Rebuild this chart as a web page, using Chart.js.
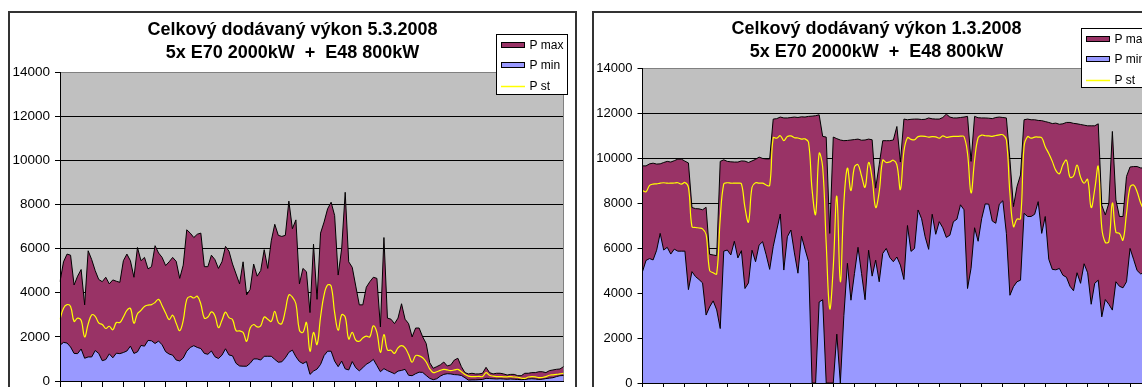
<!DOCTYPE html>
<html>
<head>
<meta charset="utf-8">
<title>Celkový dodávaný výkon</title>
<script src="https://cdn.jsdelivr.net/npm/chart.js"></script>
<style>
  html, body { margin: 0; padding: 0; background: #fff; width: 1142px; height: 387px; overflow: hidden; }
  .frame { position: absolute; top: 11px; width: 569px; height: 420px; box-sizing: border-box;
           border: 2px solid #333; background: #fff; }
  .frame canvas { position: absolute; left: 0; top: 0; }
</style>
</head>
<body>
<div class="frame" style="left:8px"><canvas id="day5" width="565" height="405"></canvas></div>
<div class="frame" style="left:592px"><canvas id="day1" width="565" height="405"></canvas></div>
<script>
// 10-minute samples over one day
const times = [];
for (let m = 0; m < 1440; m += 10) times.push(Math.floor(m / 60) + ':' + String(m % 60).padStart(2, '0'));

const seriesNames = ['P max', 'P min', 'P st'];
const seriesColors = ['#993366', '#9999ff', '#ffff00'];
const yTickValues = [0, 2000, 4000, 6000, 8000, 10000, 12000, 14000];

const title5 = ['Celkový dodávaný výkon 5.3.2008', '5x E70 2000kW  +  E48 800kW'];
const title1 = ['Celkový dodávaný výkon 1.3.2008', '5x E70 2000kW  +  E48 800kW'];

// 5.3.2008 [kW]
const max5 = [
  4500,5400,5750,5700,4350,4750,5050,3450,5900,5500,
  5000,4600,4500,4700,4400,4580,4520,4470,5450,5750,
  5450,4700,6050,5450,5600,5080,5180,6130,5800,5600,
  5230,5400,5600,5420,4650,5250,6850,6700,6500,6650,
  6700,5180,5180,5700,5500,5100,5400,6100,5880,5300,
  4850,4400,5400,3900,4150,5300,4750,5000,5950,5100,
  6350,7100,6600,6550,6600,8150,6900,7300,4400,5100,
  4950,3100,6200,3700,6700,7200,7800,8100,7500,4800,
  6000,8550,5400,5150,4300,3450,3450,4250,4500,4700,
  4650,2450,6500,2850,2800,2600,2850,3500,2800,2600,
  2000,2400,2400,2000,1700,830,575,650,730,860,
  680,730,950,1030,650,380,320,350,320,320,
  350,620,380,320,350,350,320,270,300,300,
  240,240,350,350,380,380,420,420,380,470,
  500,530,545,650
];
const min5 = [
  1620,1750,1720,1540,1250,1240,1450,1030,1090,1090,
  1380,1250,920,970,1230,1050,1260,1240,1290,1360,
  1580,1250,1320,1610,1580,1840,1820,1700,1810,1640,
  1330,1220,1170,950,910,1040,1350,1520,1600,1520,
  1470,1250,1210,1360,1100,1020,1170,1460,1180,1140,
  800,680,670,670,800,1000,1000,950,1120,1120,
  1120,980,850,870,1050,1300,1400,1100,880,790,
  880,300,450,540,750,1150,1350,1350,900,650,
  900,550,500,880,600,460,600,760,850,980,
  700,420,560,470,400,330,450,480,530,260,
  240,330,400,390,250,120,60,100,220,300,
  330,320,290,280,250,150,40,50,50,60,
  70,120,110,100,90,100,90,80,90,80,
  70,60,70,90,100,90,70,80,110,130,
  150,200,240,250
];
const avg5 = [
  2790,3300,3460,3380,2700,2850,2750,2000,2580,3000,
  2930,2630,2560,2380,2480,2320,2650,2650,2900,3200,
  3290,2620,3050,3200,3380,3440,3460,3560,3700,3410,
  3080,2780,2980,2620,2280,2750,3700,3830,3760,3840,
  3480,2850,2900,3130,2960,2420,2750,3120,2870,2780,
  2280,2270,2200,1800,2400,2560,2450,2500,2900,2800,
  2700,3150,2650,2600,3200,3900,3800,3500,2300,2200,
  2650,1350,2200,1650,2900,3900,4350,4300,3100,2300,
  3000,2900,1900,2200,1850,1800,1950,2030,2000,2500,
  2200,1300,2100,1400,1390,1250,1500,1600,1500,1200,
  850,1150,1140,1050,860,550,380,420,480,530,
  500,470,500,530,420,300,220,200,200,210,
  200,380,260,220,200,200,190,190,200,180,
  170,130,120,180,200,190,150,160,200,260,
  280,300,320,350
];

// 1.3.2008 [kW]
const max1 = [
  9650,9650,9740,9770,9730,9740,9800,9850,9820,9880,
  9950,9950,9860,9780,7800,7750,7740,7700,7810,5720,
  5690,5660,9850,9920,9850,9830,9820,9820,9870,9860,
  9800,9870,9940,10040,9980,9960,9960,11730,11750,11820,
  11780,11780,11800,11820,11800,11830,11820,11850,11860,11880,
  11920,10960,10930,6650,10930,10860,10800,10770,10780,10800,
  10820,10840,10790,10800,10840,10810,8660,9700,10770,10770,
  10770,10800,11400,9820,11730,11700,11720,11730,11730,11710,
  11720,11780,11740,11730,11730,11800,11950,11820,11780,11780,
  11800,11820,11850,9850,11850,11790,11780,11780,11770,11750,
  11800,11820,11800,11780,9920,7840,8730,9250,11700,11730,
  11700,11700,11670,11660,11620,11580,11530,11550,11500,11520,
  11580,11580,11540,11520,11490,11460,11430,11430,11430,11520,
  7900,7470,7990,11180,8140,7400,7400,9180,9600,9620,
  9620,9560,9550,9550
];
const min1 = [
  4950,5450,5530,5470,5900,6650,5910,6030,5730,5950,
  5860,5860,5860,4150,4950,4730,4600,4450,3020,3380,
  3650,3250,2420,5860,5910,5690,6300,5560,5880,4200,
  4450,5900,5390,6130,6280,5700,5050,6060,6800,7510,
  5020,6500,6800,5780,4880,6530,5950,5400,0,0,
  3600,3700,0,0,0,2170,0,3000,5320,3680,
  4870,6030,4870,3700,5900,4750,5460,4500,5760,5980,
  5580,5390,5600,5240,4600,7000,5850,5980,7690,7300,
  6500,5940,7500,6610,7170,6900,6470,6570,7170,7280,
  7920,7700,4200,5100,6900,6300,7300,7960,7950,7200,
  7100,7950,8100,6650,3900,4280,4500,4570,7540,7400,
  7400,7500,8060,6650,7400,5500,5050,5030,5090,4790,
  4700,4300,4100,4900,4430,5300,4900,3500,4430,4570,
  2940,3710,3500,3240,4500,4300,4230,4500,5980,5500,
  5000,4850,4900,5000
];
const avg1 = [
  8550,8500,8780,8840,8850,8880,8900,8880,8880,8890,
  8900,8840,8910,8700,6950,6910,6890,6850,6600,5000,
  4900,4850,7300,8850,8900,8880,8880,8880,8850,7800,
  7150,8700,8900,8880,8880,8800,8780,10900,10880,10990,
  10770,10960,10980,10900,10890,10840,10850,10700,8600,7500,
  10200,9600,6200,3300,5170,8300,4500,8000,9550,8550,
  9600,9700,9200,8700,9800,9100,7800,8500,9900,9800,
  9830,9900,9700,8600,10300,10900,10830,10810,10950,10970,
  10960,10930,10950,10940,10880,10980,10920,10940,10960,10960,
  10970,10950,10200,8450,9900,10900,11020,10990,10980,10960,
  11000,11030,11030,10810,8430,6950,7280,7300,10500,10950,
  10880,10930,10930,10900,10500,10200,9850,9450,9300,9700,
  9900,9150,9200,9680,9150,8880,9050,7800,8600,9620,
  6900,6250,6280,8000,6700,6650,6350,7540,8700,8800,
  8500,8000,7700,7600
];

const FONT = '"Liberation Sans", Arial, Helvetica, sans-serif';

// grey plot area with a thin grey frame on top and right
const plotFrame = {
  id: 'plotFrame',
  beforeDraw(chart) {
    const { ctx, chartArea: a } = chart;
    ctx.save();
    ctx.fillStyle = '#c0c0c0';
    ctx.fillRect(a.left, a.top, a.right - a.left, a.bottom - a.top);
    ctx.restore();
  },
  beforeDatasetsDraw(chart) {
    const { ctx, chartArea: a } = chart;
    const t = Math.round(a.top) + 0.5, r = Math.round(a.right) - 0.5;
    ctx.save();
    ctx.strokeStyle = '#808080';
    ctx.lineWidth = 1;
    ctx.beginPath();
    ctx.moveTo(a.left, t);
    ctx.lineTo(r, t);
    ctx.lineTo(r, a.bottom);
    ctx.stroke();
    ctx.restore();
  }
};

// boxed legend in the upper right corner
const boxLegend = {
  id: 'boxLegend',
  afterDraw(chart, args, o) {
    const ctx = chart.ctx;
    ctx.save();
    ctx.fillStyle = '#fff';
    ctx.fillRect(o.x, o.y, o.w, o.h);
    ctx.strokeStyle = '#000';
    ctx.lineWidth = 1;
    ctx.strokeRect(o.x + 0.5, o.y + 0.5, o.w - 1, o.h - 1);
    ctx.font = o.fontSize + 'px ' + FONT;
    ctx.textBaseline = 'middle';
    ctx.textAlign = 'left';
    chart.data.datasets.forEach((ds, k) => {
      const cy = Math.round(o.y + 11 + k * 20.4);
      const sx = o.x + 5;
      if (ds.fill) {
        ctx.fillStyle = ds.backgroundColor;
        ctx.fillRect(sx, cy - 3, 24, 6);
        ctx.strokeStyle = '#000';
        ctx.lineWidth = 1;
        ctx.strokeRect(sx + 0.5, cy - 2.5, 23, 5);
      } else {
        ctx.strokeStyle = ds.borderColor;
        ctx.lineWidth = 1.5;
        ctx.beginPath();
        ctx.moveTo(sx, cy + 0.5);
        ctx.lineTo(sx + 24, cy + 0.5);
        ctx.stroke();
      }
      ctx.fillStyle = '#000';
      ctx.fillText(ds.label, sx + 28.5, cy + 0.5);
    });
    ctx.restore();
  }
};

function powerChart(id, title, maxVals, minVals, avgVals, L) {
  const hourTick = c => (c.index % 6 === 0 ? '#000' : 'rgba(0,0,0,0)');
  return new Chart(document.getElementById(id), {
    type: 'line',
    data: {
      labels: times,
      datasets: [
        { label: seriesNames[0], data: maxVals, fill: 'origin', backgroundColor: seriesColors[0],
          borderColor: '#000', borderWidth: 1, tension: 0, order: 2 },
        { label: seriesNames[1], data: minVals, fill: 'origin', backgroundColor: seriesColors[1],
          borderColor: '#000', borderWidth: 1, tension: 0, order: 1 },
        { label: seriesNames[2], data: avgVals, fill: false, borderColor: seriesColors[2],
          borderWidth: 1.2, tension: 0.4, order: 0 }
      ]
    },
    options: {
      responsive: false,
      animation: false,
      devicePixelRatio: 1,
      events: [],
      layout: { padding: 0 },
      elements: { point: { radius: 0 } },
      scales: {
        x: {
          type: 'category',
          offset: false,
          ticks: { display: false, autoSkip: false },
          grid: { drawOnChartArea: false, drawTicks: true, tickLength: 6, lineWidth: 1,
                  color: hourTick, tickColor: hourTick },
          border: { color: '#000', width: 1, z: 1 },
          afterFit: s => { s.height = L.xh; }
        },
        y: {
          min: 0,
          max: 14000,
          afterBuildTicks: s => { s.ticks = yTickValues.map(v => ({ value: v })); },
          ticks: { color: '#000', padding: 5, font: { family: FONT, size: L.tick },
                   callback: v => String(v) },
          grid: { lineWidth: 1, tickLength: 5, tickColor: '#000',
                  color: c => (c.tick && (c.tick.value === 0 || c.tick.value === 14000)) ? 'rgba(0,0,0,0)' : '#000' },
          border: { color: '#000', width: 1, z: 1 },
          afterFit: s => { s.width = L.yw; }
        },
        // empty margin on the right side of the plot
        gap: {
          type: 'linear',
          position: 'right',
          display: true,
          ticks: { display: false },
          grid: { display: false, drawTicks: false },
          border: { display: false },
          afterFit: s => { s.width = L.rw; }
        }
      },
      plugins: {
        legend: { display: false },
        tooltip: { enabled: false },
        title: {
          display: true,
          text: title,
          color: '#000',
          font: { family: FONT, size: 18, weight: 'bold', lineHeight: 1.25 },
          padding: { top: L.tt, bottom: L.tb }
        },
        boxLegend: { x: L.lx, y: L.ly, w: 72, h: L.lh, fontSize: 12 }
      }
    },
    plugins: [plotFrame, boxLegend]
  });
}

powerChart('day5', title5, max5, min5, avg5,
  { yw: 50, rw: 11.5, xh: 37, tt: 6.25, tb: 7.75, lx: 486, ly: 21, lh: 61, tick: 13.5 });
powerChart('day1', title1, max1, min1, avg1,
  { yw: 48.5, rw: 11.3, xh: 35, tt: 5, tb: 5, lx: 487, ly: 15, lh: 60, tick: 13 });
</script>
</body>
</html>
